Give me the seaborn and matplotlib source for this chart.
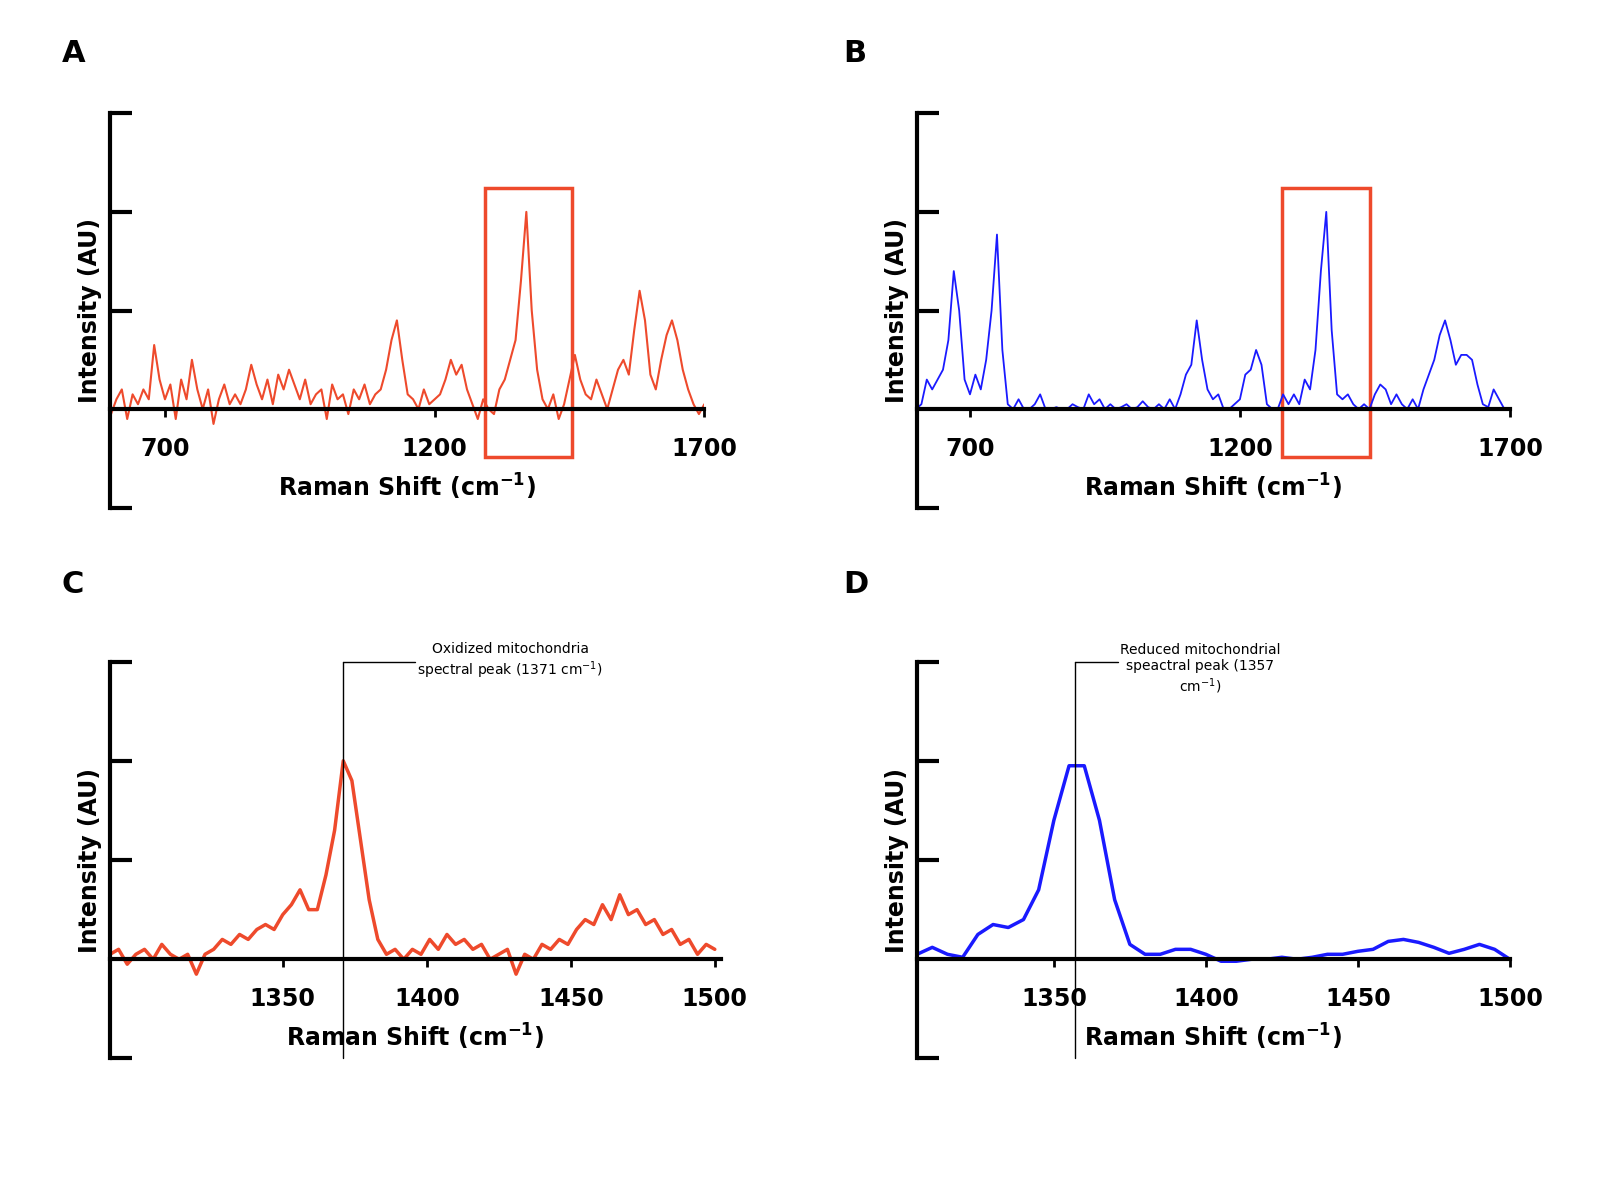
import numpy as np
import matplotlib
matplotlib.use("Agg")
import matplotlib.pyplot as plt
import seaborn as sns
from matplotlib.patches import Rectangle

sns.set_style("white")
plt.rcParams['font.family'] = ['DejaVu Sans']
plt.rcParams['text.color'] = 'black'
plt.rcParams['axes.labelcolor'] = 'black'
plt.rcParams['xtick.color'] = 'black'
plt.rcParams['ytick.color'] = 'black'
plt.rcParams['axes.edgecolor'] = 'black'

RED = "#ee4a2c"
BLUE = "#1a1aff"

# Panel A: oxidized spectrum, 600-1700 cm-1, step 10
a_start, a_step = 600, 10
a_vals = [-0.05, 0.1, 0.2, -0.1, 0.15, 0.05, 0.2, 0.1, 0.65, 0.3,
          0.1, 0.25, -0.1, 0.3, 0.1, 0.5, 0.2, 0.0, 0.2, -0.15,
          0.1, 0.25, 0.05, 0.15, 0.05, 0.2, 0.45, 0.25, 0.1, 0.3,
          0.05, 0.35, 0.2, 0.4, 0.25, 0.1, 0.3, 0.05, 0.15, 0.2,
          -0.1, 0.25, 0.1, 0.15, -0.05, 0.2, 0.1, 0.25, 0.05, 0.15,
          0.2, 0.4, 0.7, 0.9, 0.5, 0.15, 0.1, 0.0, 0.2, 0.05,
          0.1, 0.15, 0.3, 0.5, 0.35, 0.45, 0.2, 0.05, -0.1, 0.1,
          0.0, -0.05, 0.2, 0.3, 0.5, 0.7, 1.3, 2.0, 1.0, 0.4,
          0.1, 0.0, 0.15, -0.1, 0.05, 0.3, 0.55, 0.3, 0.15, 0.1,
          0.3, 0.15, 0.0, 0.2, 0.4, 0.5, 0.35, 0.8, 1.2, 0.9,
          0.35, 0.2, 0.5, 0.75, 0.9, 0.7, 0.4, 0.2, 0.05, -0.05, 0.05]

# Panel B: reduced spectrum, 600-1700 cm-1, step 10
b_start, b_step = 600, 10
b_vals = [0.0, 0.05, 0.3, 0.2, 0.3, 0.4, 0.7, 1.4, 1.0, 0.3,
          0.15, 0.35, 0.2, 0.5, 1.0, 1.77, 0.6, 0.05, 0.0, 0.1,
          0.0, 0.0, 0.05, 0.15, 0.0, 0.0, 0.02, 0.0, 0.0, 0.05,
          0.02, 0.0, 0.15, 0.05, 0.1, 0.0, 0.05, 0.0, 0.02, 0.05,
          0.0, 0.02, 0.08, 0.02, 0.0, 0.05, 0.0, 0.1, 0.0, 0.15,
          0.35, 0.45, 0.9, 0.5, 0.2, 0.1, 0.15, 0.0, 0.0, 0.05,
          0.1, 0.35, 0.4, 0.6, 0.45, 0.05, 0.0, 0.0, 0.15, 0.05,
          0.15, 0.05, 0.3, 0.2, 0.6, 1.4, 2.0, 0.8, 0.15, 0.1,
          0.15, 0.05, 0.0, 0.05, 0.0, 0.15, 0.25, 0.2, 0.05, 0.15,
          0.05, 0.0, 0.1, 0.0, 0.2, 0.35, 0.5, 0.75, 0.9, 0.7,
          0.45, 0.55, 0.55, 0.5, 0.25, 0.05, 0.02, 0.2, 0.1, 0.0, 0.0]

# Panel C: oxidized zoom, 1290-1500, step 3
c_start, c_step = 1290, 3
c_vals = [0.05, 0.1, -0.05, 0.05, 0.1, 0.0, 0.15, 0.05, 0.0, 0.05,
          -0.15, 0.05, 0.1, 0.2, 0.15, 0.25, 0.2, 0.3, 0.35, 0.3,
          0.45, 0.55, 0.7, 0.5, 0.5, 0.85, 1.3, 2.0, 1.8, 1.2,
          0.6, 0.2, 0.05, 0.1, 0.0, 0.1, 0.05, 0.2, 0.1, 0.25,
          0.15, 0.2, 0.1, 0.15, 0.0, 0.05, 0.1, -0.15, 0.05, 0.0,
          0.15, 0.1, 0.2, 0.15, 0.3, 0.4, 0.35, 0.55, 0.4, 0.65,
          0.45, 0.5, 0.35, 0.4, 0.25, 0.3, 0.15, 0.2, 0.05, 0.15,
          0.1, 0.2, 0.05, 0.1, 0.25, 0.3][:71]

# Panel D: reduced zoom, 1305-1500, step 5
d_start, d_step = 1305, 5
d_vals = [0.05, 0.12, 0.05, 0.02, 0.25, 0.35, 0.32, 0.4, 0.7, 1.4,
          1.95, 1.95, 1.4, 0.6, 0.15, 0.05, 0.05, 0.1, 0.1, 0.05,
          -0.02, -0.02, 0.0, 0.0, 0.02, 0.0, 0.02, 0.05, 0.05, 0.08,
          0.1, 0.18, 0.2, 0.17, 0.12, 0.06, 0.1, 0.15, 0.1, 0.0]


def series(start, step, vals):
    return start + step * np.arange(len(vals)), np.array(vals)


def style_axes(ax, xlim, xticks, fs):
    ax.set_xlim(*xlim)
    ax.set_ylim(-1, 3)
    for s in ["top", "right"]:
        ax.spines[s].set_visible(False)
    ax.spines["left"].set_linewidth(3)
    ax.spines["bottom"].set_position(("data", 0))
    ax.spines["bottom"].set_linewidth(3)
    ax.set_yticks([-1, 1, 2, 3])
    ax.set_yticklabels([])
    ax.tick_params(axis="y", direction="in", length=16, width=3, left=True)
    ax.set_xticks(xticks)
    ax.set_xticklabels([str(t) for t in xticks], fontsize=fs, fontweight="bold")
    ax.tick_params(axis="x", direction="out", length=6, width=2, bottom=True, pad=14)
    ax.set_xlabel("Raman Shift (cm$^{\\mathbf{-1}}$)", fontsize=17, fontweight="bold", labelpad=8)
    ax.set_ylabel("Intensity (AU)", fontsize=17, fontweight="bold", labelpad=2)


fig = plt.figure(figsize=(16.24, 11.92), dpi=100)
axA = fig.add_axes([0.0677, 0.574, 0.366, 0.331])
axB = fig.add_axes([0.5647, 0.574, 0.365, 0.331])
axC = fig.add_axes([0.0677, 0.112, 0.376, 0.333])
axD = fig.add_axes([0.5647, 0.112, 0.365, 0.333])

x, y = series(a_start, a_step, a_vals)
sns.lineplot(x=x, y=y, ax=axA, color=RED, lw=1.5)
style_axes(axA, (598, 1700), [700, 1200, 1700], 17)
axA.add_patch(Rectangle((1294, -0.48), 161, 2.72, fill=False, ec=RED, lw=2.5))

x, y = series(b_start, b_step, b_vals)
sns.lineplot(x=x, y=y, ax=axB, color=BLUE, lw=1.3)
style_axes(axB, (602, 1700), [700, 1200, 1700], 17)
axB.add_patch(Rectangle((1278, -0.48), 163, 2.72, fill=False, ec=RED, lw=2.5))

x, y = series(c_start, c_step, c_vals)
sns.lineplot(x=x, y=y, ax=axC, color=RED, lw=2.5)
style_axes(axC, (1290, 1502), [1350, 1400, 1450, 1500], 17)
axC.plot([1371, 1371], [-1.0, 3.0], color="black", lw=1, clip_on=False)
axC.plot([1371, 1396], [3.0, 3.0], color="black", lw=1, clip_on=False)
axC.text(1429, 3.0, "Oxidized mitochondria\nspectral peak (1371 cm$^{-1}$)",
         ha="center", va="center", fontsize=10)

x, y = series(d_start, d_step, d_vals)
sns.lineplot(x=x, y=y, ax=axD, color=BLUE, lw=2.5)
style_axes(axD, (1305, 1500), [1350, 1400, 1450, 1500], 17)
axD.plot([1357, 1357], [-1.0, 3.0], color="black", lw=1, clip_on=False)
axD.plot([1357, 1371], [3.0, 3.0], color="black", lw=1, clip_on=False)
axD.text(1398, 2.92, "Reduced mitochondrial\nspeactral peak (1357\ncm$^{-1}$)",
         ha="center", va="center", fontsize=10)

for lab, fx, fy in [("A", 0.038, 0.955), ("B", 0.519, 0.955), ("C", 0.038, 0.51), ("D", 0.519, 0.51)]:
    fig.text(fx, fy, lab, fontsize=22, fontweight="bold", ha="left", va="center")

fig.savefig("out.png", dpi=100)
